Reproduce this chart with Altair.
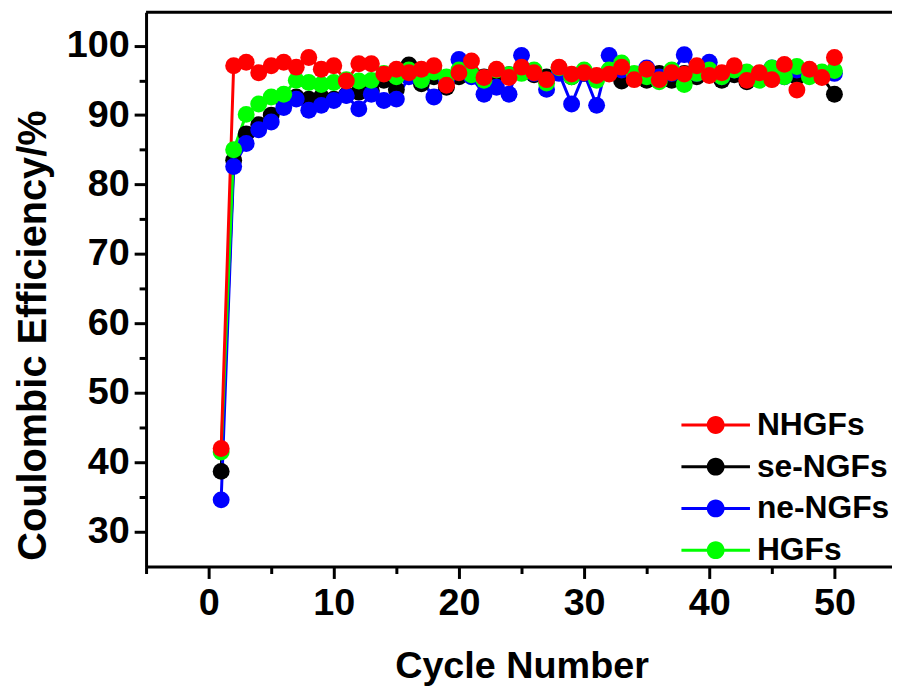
import altair as alt
import pandas as pd

cycles = list(range(1, 51))

nhgfs = [42.0, 97.1, 97.6, 96.1, 97.1, 97.6, 96.9, 98.3, 96.6, 97.1,
         94.9, 97.4, 97.4, 95.9, 96.6, 96.1, 96.6, 97.1, 94.3, 96.1,
         97.8, 95.4, 96.6, 95.4, 96.9, 96.1, 95.1, 96.9, 95.9, 96.1,
         95.7, 95.9, 96.9, 95.1, 96.6, 95.1, 96.1, 95.9, 97.1, 95.7,
         96.1, 97.1, 95.0, 96.1, 95.1, 97.3, 93.6, 96.6, 95.4, 98.3]

se_ngfs = [38.7, 83.5, 87.3, 88.6, 90.0, 91.9, 92.6, 92.3, 92.6, 92.3,
           92.9, 93.3, 93.5, 95.0, 93.7, 97.2, 94.5, 95.5, 94.0, 95.5,
           95.8, 95.5, 96.0, 95.8, 96.5, 95.8, 95.5, 96.2, 95.5, 96.0,
           95.5, 96.0, 94.9, 95.5, 95.0, 96.0, 95.0, 96.0, 95.5, 95.8,
           95.0, 95.8, 94.8, 95.5, 95.2, 95.8, 95.5, 96.0, 95.5, 93.0]

ne_ngfs = [34.6, 82.6, 85.9, 87.9, 89.0, 91.1, 92.3, 90.7, 91.4, 92.1,
           92.8, 90.9, 93.0, 92.1, 92.3, 95.5, 95.0, 92.6, 95.0, 98.0,
           95.5, 93.0, 94.0, 93.0, 98.6, 96.0, 93.7, 96.0, 91.6, 96.0,
           91.4, 98.6, 96.5, 95.5, 96.8, 95.5, 96.0, 98.7, 96.0, 97.6,
           95.5, 96.5, 95.5, 96.0, 96.8, 95.5, 96.5, 96.0, 95.8, 96.0]

hgfs = [41.5, 85.0, 90.1, 91.6, 92.6, 93.0, 95.0, 94.7, 94.4, 94.7,
        95.1, 94.9, 95.0, 96.0, 95.5, 96.5, 95.0, 96.2, 95.5, 96.5,
        95.8, 95.0, 96.5, 95.8, 96.0, 96.5, 94.6, 96.8, 95.5, 96.5,
        95.0, 96.5, 97.5, 96.0, 95.5, 94.8, 96.5, 94.4, 96.0, 96.5,
        95.5, 96.5, 96.2, 95.0, 96.8, 95.5, 97.0, 95.5, 96.2, 96.4]

legend_order = ["NHGFs", "se-NGFs", "ne-NGFs", "HGFs"]
colors = ["#FF0000", "#000000", "#0000FF", "#00FF00"]

# drawing order: bottom to top
draw_names = ["se-NGFs", "ne-NGFs", "HGFs", "NHGFs"]
draw_colors = ["#000000", "#0000FF", "#00FF00", "#FF0000"]
draw_vals = [se_ngfs, ne_ngfs, hgfs, nhgfs]

rows = []
for name, vals in zip(draw_names, draw_vals):
    for c, v in zip(cycles, vals):
        rows.append({"cycle": c, "ce": v, "series": name})
df = pd.DataFrame(rows)

FONT = "Liberation Sans"

x_ticks = list(range(-5, 51, 5))
y_ticks = list(range(30, 101, 5))

xscale = alt.Scale(domain=[-5, 54.6], nice=False, zero=False)
yscale = alt.Scale(domain=[25, 104.8], nice=False, zero=False)
cscale = alt.Scale(domain=legend_order, range=colors)
sscale = alt.Scale(domain=draw_names, range=draw_colors)

tick_size = {"condition": {"test": "datum.value % 10 === 0", "value": 12}, "value": 7}
label_expr = "datum.value % 10 === 0 ? datum.label : ''"

x_axis = alt.Axis(values=x_ticks, labelExpr=label_expr, tickSize=tick_size,
                  title="Cycle Number", grid=False, labelPadding=6,
                  titleX=378, titleY=112, titleAlign="center",
                  titleBaseline="alphabetic", titleFontSize=38)
y_axis = alt.Axis(values=y_ticks, labelExpr=label_expr, tickSize=tick_size,
                  title="Coulombic Efficiency/%", grid=False, labelPadding=5,
                  titleX=-101, titleY=325, titleAlign="center",
                  titleBaseline="alphabetic", titleAngle=270, titleFontSize=40)

base = alt.Chart(df)

lines = base.mark_line(strokeWidth=3).encode(
    x=alt.X("cycle:Q", scale=xscale, axis=x_axis),
    y=alt.Y("ce:Q", scale=yscale, axis=y_axis),
    stroke=alt.Stroke("series:N", scale=sscale, legend=None),
    detail="series:N",
)

sym_path = ("M-2,-0.087H2V0.087H-2Z"
            "M0.52,0A0.52,0.52,0,1,1,-0.52,0A0.52,0.52,0,1,1,0.52,0Z")

points = base.mark_point(filled=True, size=290, opacity=1).encode(
    x=alt.X("cycle:Q", scale=xscale, axis=x_axis),
    y=alt.Y("ce:Q", scale=yscale, axis=y_axis),
    color=alt.Color(
        "series:N", scale=cscale,
        legend=alt.Legend(
            title=None, orient="none", legendX=556, legendY=398,
            symbolType=sym_path, symbolSize=1190, symbolStrokeWidth=0,
            symbolOpacity=1, labelOffset=24, labelFont=FONT,
            labelFontSize=32, labelFontWeight="bold", labelColor="black",
            rowPadding=8, padding=0,
        ),
    ),
)

top_border = alt.Chart(alt.Data(values=[{"a": 1}])).mark_rule(
    color="black", strokeWidth=3
).encode(y=alt.value(0))

chart = alt.layer(lines, points, top_border).properties(
    width=751, height=558,
    autosize=alt.AutoSizeParams(type="none"),
    padding={"left": 139, "top": 2, "right": 0, "bottom": 125},
).configure_view(stroke=None).configure_axis(
    domainColor="black", domainWidth=3, tickColor="black", tickWidth=3,
    labelFont=FONT, labelFontSize=38, labelFontWeight="bold", labelColor="black",
    titleFont=FONT, titleFontWeight="bold", titleColor="black",
)

chart.save("out.html", embed_options={"renderer": "svg", "actions": False})
